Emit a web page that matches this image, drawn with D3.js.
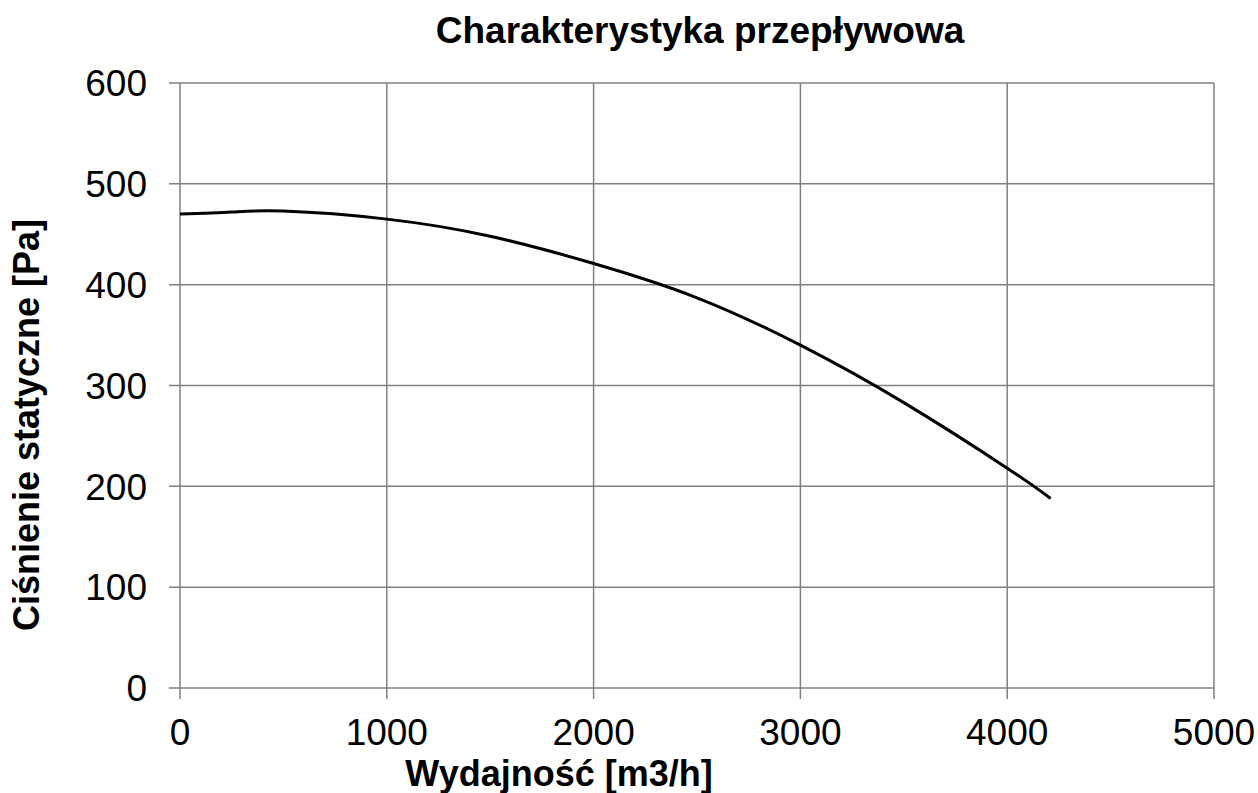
<!DOCTYPE html>
<html><head><meta charset="utf-8">
<script src="https://cdn.jsdelivr.net/npm/d3@7"></script>
<style>body{margin:0;background:#fff}svg{display:block}</style>
</head><body>
<script>
const flow = [0, 250, 500, 1000, 1500, 2000, 2500, 3000, 3500, 4000, 4210];
const pressure = [470, 472, 473, 465, 448, 421, 387, 340, 283, 218, 188];
const xTicks = [0, 1000, 2000, 3000, 4000, 5000];
const yTicks = [0, 100, 200, 300, 400, 500, 600];
const title = "Charakterystyka przepływowa";
const xTitle = "Wydajność [m3/h]";
const yTitle = "Ciśnienie statyczne [Pa]";

const W = 1258, H = 793;
const m = {l: 180, r: W - 1214, t: 83, b: H - 688};
const svg = d3.select("body").append("svg").attr("width", W).attr("height", H);
const x = d3.scaleLinear().domain([0, 5000]).range([m.l, W - m.r]);
const y = d3.scaleLinear().domain([0, 600]).range([H - m.b, m.t]);
const font = "'Liberation Sans', Arial, sans-serif";
const grid = "#808080";

// grid
svg.append("g").selectAll("line").data(xTicks).join("line")
  .attr("x1", d => x(d)).attr("x2", d => x(d))
  .attr("y1", y(600)).attr("y2", y(0) + 11)
  .attr("stroke", grid).attr("stroke-width", 1.5);
svg.append("g").selectAll("line").data(yTicks).join("line")
  .attr("x1", x(0) - 11).attr("x2", x(5000))
  .attr("y1", d => y(d)).attr("y2", d => y(d))
  .attr("stroke", grid).attr("stroke-width", 1.5);

// tick labels
svg.append("g").selectAll("text").data(xTicks).join("text")
  .attr("x", d => x(d)).attr("y", 745)
  .attr("text-anchor", "middle").attr("font-family", font).attr("font-size", 37)
  .attr("fill", "#000").text(d => d);
svg.append("g").selectAll("text").data(yTicks).join("text")
  .attr("x", 147).attr("y", d => y(d)).attr("dy", "0.36em")
  .attr("text-anchor", "end").attr("font-family", font).attr("font-size", 37)
  .attr("fill", "#000").text(d => d);

// curve
const data = flow.map((f, i) => [f, pressure[i]]);
svg.append("path").datum(data)
  .attr("d", d3.line().x(d => x(d[0])).y(d => y(d[1])).curve(d3.curveNatural))
  .attr("fill", "none").attr("stroke", "#000").attr("stroke-width", 3);

// titles
svg.append("text").attr("x", 700).attr("y", 43).attr("text-anchor", "middle")
  .attr("font-family", font).attr("font-size", 37).attr("font-weight", "bold").text(title);
svg.append("text").attr("x", 559).attr("y", 786).attr("text-anchor", "middle")
  .attr("font-family", font).attr("font-size", 36).attr("font-weight", "bold").text(xTitle);
svg.append("text").attr("transform", "translate(39,425) rotate(-90)").attr("text-anchor", "middle")
  .attr("font-family", font).attr("font-size", 36).attr("font-weight", "bold").text(yTitle);
</script>
</body></html>
